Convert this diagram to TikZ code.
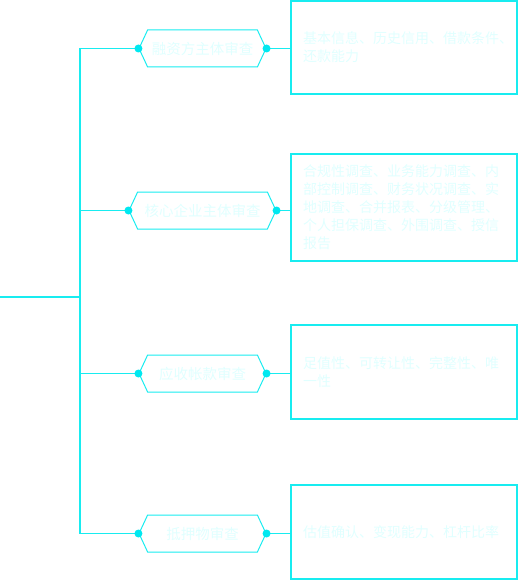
\documentclass[tikz,border=0pt]{standalone}
\usepackage{fontspec}
\setmainfont{Noto Sans CJK SC}
\usepackage{tikz}
\usetikzlibrary{shapes.symbols,positioning}
\usepackage{xcolor}
\definecolor{mmcyan}{RGB}{24,236,240}
\definecolor{mmdot}{RGB}{0,232,240}
\definecolor{mmtext}{RGB}{224,255,255}
\tikzstyle{topic} = [signal, signal to=east and west, signal pointer angle=130, minimum width=127pt, minimum height=37pt, inner sep=0pt, draw=mmcyan, line width=1pt, text=mmtext, font=\fontsize{14.5}{17}\selectfont]
\tikzstyle{detail} = [rectangle, text width=202pt, inner xsep=12pt, inner ysep=0pt, align=left, draw=mmcyan, line width=1.2pt, text=mmtext, font=\fontsize{14}{18}\selectfont]
\tikzstyle{link} = [line width=1.2pt, color=mmcyan]
\tikzstyle{knob} = [circle, fill=mmdot, inner sep=0pt, minimum size=8pt]

\begin{document}
\begin{tikzpicture}[x=1pt,y=-1pt]
\useasboundingbox (0,0) rectangle (518,580);

% Review topics
\node[topic] (finance) at (202.5,48.5) {融资方主体审查};
\node[topic, minimum width=147pt] (core) at (202.5,210.5) {核心企业主体审查};
\node[topic] (receivable) at (202.5,373.5) {应收帐款审查};
\node[topic] (collateral) at (202.5,533.5) {抵押物审查};

% Details on the right
\node[detail, minimum height=93pt] (financeinfo) at (404,47.5) {基本信息、历史信用、借款条件、\\还款能力};
\node[detail, minimum height=107pt] (coreinfo) at (404,207.5) {合规性调查、业务能力调查、内\\部控制调查、财务状况调查、实\\地调查、合并报表、分级管理、\\个人担保调查、外围调查、授信\\报告};
\node[detail, minimum height=94pt] (receivableinfo) at (404,372) {足值性、可转让性、完整性、唯\\一性};
\node[detail, minimum height=94pt] (collateralinfo) at (404,532) {估值确认、变现能力、杠杆比率};

% Root and spine
\coordinate (root) at (0,297);
\coordinate (trunk) at (80,297);
\draw[link] (root) -- (trunk);
\draw[link] (finance.west -| trunk) -- (collateral.west -| trunk);

% Branches
\foreach \n in {finance,core,receivable,collateral} {
  \draw[link] (\n.west -| trunk) -- (\n.west);
  \draw[link] (\n.east) -- (\n.east -| \n info.west);
  \node[knob] (\n-in) at (\n.west) {};
  \node[knob] (\n-out) at (\n.east) {};
}
\end{tikzpicture}
\end{document}
